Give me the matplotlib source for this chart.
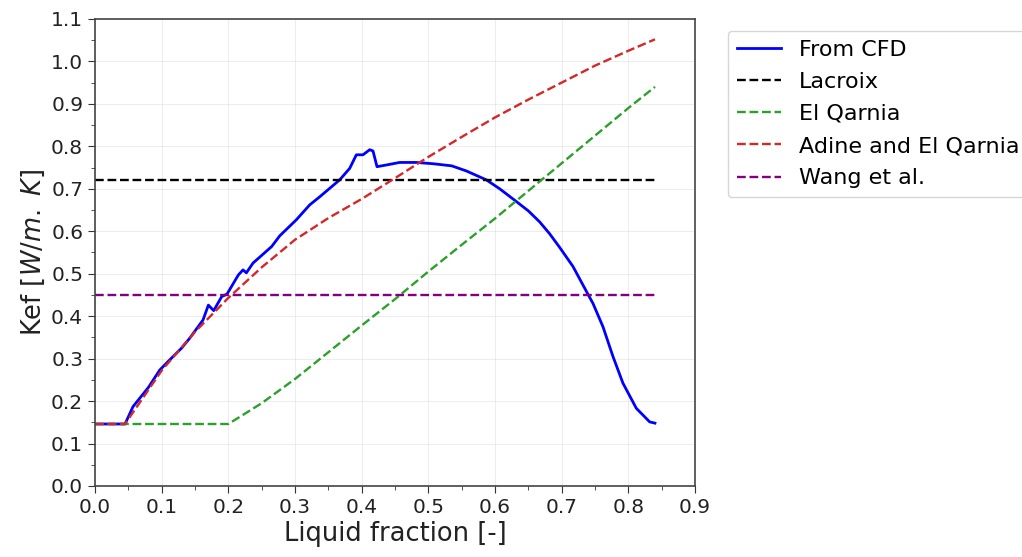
import matplotlib
matplotlib.use("Agg")
import matplotlib.pyplot as plt
from matplotlib.ticker import MultipleLocator

# CFD data
cfd_x = [0.0, 0.045, 0.057, 0.08, 0.097, 0.112, 0.13, 0.142, 0.162, 0.170, 0.178, 0.19, 0.198,
         0.215, 0.222, 0.227, 0.237, 0.265, 0.277, 0.302, 0.322, 0.337, 0.367, 0.382, 0.392,
         0.402, 0.412, 0.417, 0.423, 0.437, 0.457, 0.482, 0.507, 0.535, 0.557, 0.587, 0.607,
         0.632, 0.65, 0.667, 0.682, 0.697, 0.717, 0.74, 0.747, 0.762, 0.777, 0.792, 0.812, 0.832, 0.84]
cfd_y = [0.146, 0.146, 0.187, 0.232, 0.273, 0.297, 0.325, 0.348, 0.391, 0.426, 0.413, 0.446, 0.452,
         0.497, 0.509, 0.502, 0.525, 0.564, 0.589, 0.627, 0.662, 0.681, 0.721, 0.748, 0.78,
         0.78, 0.792, 0.789, 0.752, 0.756, 0.762, 0.762, 0.759, 0.754, 0.742, 0.721, 0.700,
         0.670, 0.648, 0.622, 0.594, 0.562, 0.517, 0.450, 0.430, 0.375, 0.305, 0.242, 0.183, 0.151, 0.148]

# Adine and El Qarnia
adine_x = [0.0, 0.045, 0.1, 0.15, 0.2, 0.25, 0.3, 0.35, 0.4, 0.45, 0.5, 0.55, 0.6, 0.65, 0.7, 0.75, 0.8, 0.84]
adine_y = [0.146, 0.146, 0.272, 0.363, 0.443, 0.515, 0.580, 0.631, 0.676, 0.725, 0.775, 0.822, 0.868,
           0.91, 0.95, 0.99, 1.025, 1.052]

# El Qarnia
elq_x = [0.0, 0.2, 0.25, 0.3, 0.35, 0.4, 0.45, 0.5, 0.55, 0.6, 0.65, 0.7, 0.75, 0.8, 0.84]
elq_y = [0.146, 0.146, 0.195, 0.252, 0.315, 0.378, 0.44, 0.505, 0.568, 0.63, 0.695, 0.76, 0.825, 0.89, 0.94]

# Constant models
const_x = [0.0, 0.84]
lacroix_y = [0.72, 0.72]
wang_y = [0.45, 0.45]

fig = plt.figure(figsize=(10.22, 5.57), dpi=100)
ax = fig.add_axes([0.093, 0.1275, 0.587, 0.8385])

ax.plot(cfd_x, cfd_y, color="blue", lw=2.0, label="From CFD")
ax.plot(const_x, lacroix_y, color="black", ls="--", lw=1.7, label="Lacroix")
ax.plot(elq_x, elq_y, color="tab:green", ls="--", lw=1.7, label="El Qarnia")
ax.plot(adine_x, adine_y, color="tab:red", ls="--", lw=1.7, label="Adine and El Qarnia")
ax.plot(const_x, wang_y, color="purple", ls="--", lw=1.7, label="Wang et al.")

ax.set_xlim(0, 0.9)
ax.set_ylim(0, 1.1)
ax.xaxis.set_major_locator(MultipleLocator(0.1))
ax.xaxis.set_minor_locator(MultipleLocator(0.05))
ax.yaxis.set_major_locator(MultipleLocator(0.1))
ax.yaxis.set_minor_locator(MultipleLocator(0.05))
ax.grid(True, which="major", color="#dddddd", lw=0.6, alpha=0.6)
ax.tick_params(axis="both", which="major", labelsize=14.5, length=5, color="#333333", labelcolor="#222222")
ax.tick_params(axis="both", which="minor", length=3, color="#333333")
for s in ax.spines.values():
    s.set_color("#444444")
    s.set_linewidth(1.2)

ax.set_xlabel("Liquid fraction [-]", fontsize=18.5, color="#222222", labelpad=3)
ax.set_ylabel(r"Kef [$W/m.\ K$]", fontsize=18.5, color="#222222", labelpad=3)

ax.legend(loc="upper left", bbox_to_anchor=(1.055, 0.975), fontsize=16, frameon=True,
          handlelength=2.0, borderaxespad=0.0, labelspacing=0.55)

fig.savefig("out.png", dpi=100)
